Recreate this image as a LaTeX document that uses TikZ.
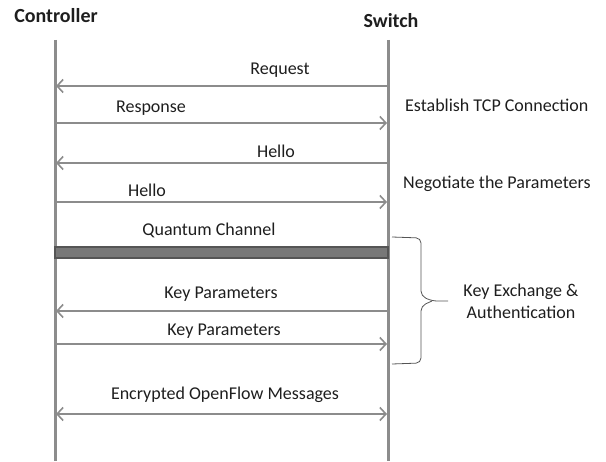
\documentclass[tikz,border=0pt]{standalone}
\usepackage{fontspec}
\setmainfont{Carlito}
\usetikzlibrary{arrows.meta}
\definecolor{linegray}{RGB}{140,140,140}
\definecolor{bargray}{RGB}{120,120,120}
\definecolor{bardark}{RGB}{85,85,85}
\definecolor{textgray}{RGB}{30,30,30}

\tikzset{
  lifeline/.style={draw=linegray,line width=3pt},
  msg/.style={draw=linegray,line width=1.8pt,
    -{Straight Barb[length=6pt,width=13pt,line width=1.6pt]},shorten >=1pt},
  msgboth/.style={msg,{Straight Barb[length=6pt,width=13pt,line width=1.6pt]}-{Straight Barb[length=6pt,width=13pt,line width=1.6pt]},shorten <=1pt},
  lbl/.style={font=\fontsize{18}{22}\selectfont,text=textgray,inner sep=0pt},
  head/.style={lbl,font=\fontsize{20}{23}\selectfont\bfseries},
  qbar/.style={fill=bargray,draw=bardark,line width=1.5pt},
  bracket/.style={draw=bardark,line width=0.8pt,rounded corners=5pt}
}

\begin{document}
\begin{tikzpicture}[x=1pt,y=-1pt]
   \useasboundingbox (0,0) rectangle (606,462);

   % participants
   \node[head] (ctrl) at (56,16) {Controller};
   \node[head] (sw) at (391,21) {Switch};
   \coordinate (ctop) at (55,40);
   \coordinate (cbot) at (55,461);
   \coordinate (stop) at (388,40);
   \coordinate (sbot) at (388,461);
   \draw[lifeline] (ctop) -- (cbot);
   \draw[lifeline] (stop) -- (sbot);

   % message rows
   \coordinate (c1) at (55,86);  \coordinate (s1) at (388,86);
   \coordinate (c2) at (55,123); \coordinate (s2) at (388,123);
   \coordinate (c3) at (55,163); \coordinate (s3) at (388,163);
   \coordinate (c4) at (55,202); \coordinate (s4) at (388,202);
   \coordinate (c5) at (55,247); \coordinate (s5) at (388,258);
   \coordinate (c6) at (55,311); \coordinate (s6) at (388,311);
   \coordinate (c7) at (55,344); \coordinate (s7) at (388,344);
   \coordinate (c8) at (55,414); \coordinate (s8) at (388,414);

   \draw[msg] (s1) -- (c1);
   \node[lbl] (req) at (280,70) {Request};
   \draw[msg] (c2) -- (s2);
   \node[lbl] (resp) at (151,108) {Response};
   \draw[msg] (s3) -- (c3);
   \node[lbl] (hello1) at (276,151) {Hello};
   \draw[msg] (c4) -- (s4);
   \node[lbl] (hello2) at (147,190) {Hello};
   \node[lbl] (qch) at (209,230) {Quantum Channel};
   \draw[qbar] (c5) rectangle (s5);
   \draw[msg] (s6) -- (c6);
   \node[lbl] (key1) at (221,294) {Key Parameters};
   \draw[msg] (c7) -- (s7);
   \node[lbl] (key2) at (224,331) {Key Parameters};
   \draw[msgboth] (c8) -- (s8);
   \node[lbl] (enc) at (225,395) {Encrypted OpenFlow Messages};

   % phases
   \node[lbl,anchor=west] (tcp) at (405,105) {Establish TCP Connection};
   \node[lbl,anchor=west] (nego) at (403,184) {Negotiate the Parameters};
   \coordinate (btop) at (392,237);
   \coordinate (btip) at (448,301);
   \coordinate (bbot) at (392,364);
   \draw[bracket] (btop) -- (421,238) -- (421,296) -- (432,301) -- (btip);
   \draw[bracket] (432,301) -- (421,306) -- (421,363) -- (bbot);
   \node[lbl,align=center] (kex) at (521,301) {Key Exchange \&\\Authentication};
\end{tikzpicture}
\end{document}
